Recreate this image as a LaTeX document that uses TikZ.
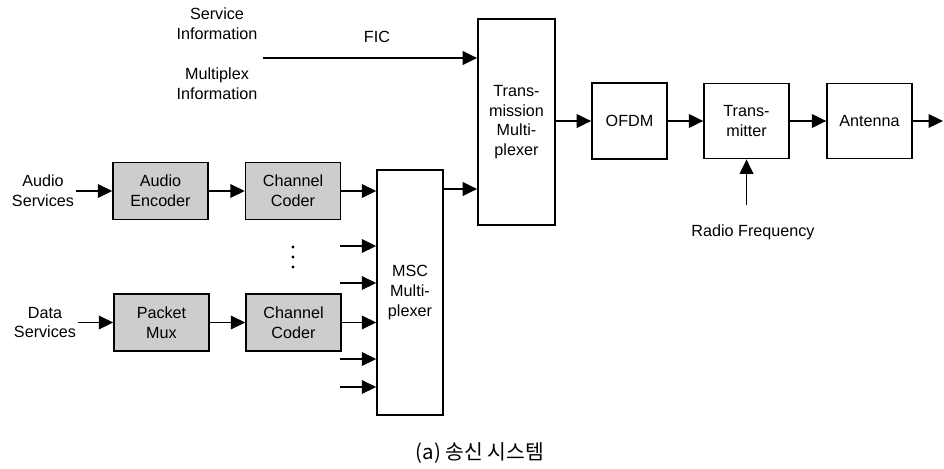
\documentclass[tikz,border=0pt]{standalone}
\usepackage{fontspec}
\setmainfont{Liberation Sans}
\newfontfamily\kofont{Noto Sans CJK KR}
\usetikzlibrary{arrows.meta}
\definecolor{coderfill}{RGB}{205,205,205}

\begin{document}
\begin{tikzpicture}[
    x=0.025cm, y=-0.025cm,
    font=\fontsize{11.5}{14}\selectfont,
    block/.style={draw, line width=1.1pt, align=center, inner sep=0pt},
    coder/.style={block, fill=coderfill, minimum width=2.375cm, minimum height=1.42cm},
    label/.style={align=center, inner sep=1pt},
    arr/.style={line width=1.1pt, -{Triangle[length=0.36cm,width=0.34cm]}}
]
\useasboundingbox (0,0) rectangle (944,468);

% source blocks
\node[coder] (aenc) at (160.5,191) {Audio\\Encoder};
\node[coder] (cc1) at (293,191) {Channel\\Coder};
\node[coder] (pmux) at (161.5,322.5) {Packet\\Mux};
\node[coder] (cc2) at (293.5,322.5) {Channel\\Coder};
\node[block, minimum width=1.65cm, minimum height=6.12cm] (msc) at (410,292.5) {MSC\\Multi-\\plexer};

% main chain
\node[block, minimum width=1.93cm, minimum height=5.15cm] (tmux) at (516.5,122) {Trans-\\mission\\Multi-\\plexer};
\node[block, minimum width=1.88cm, minimum height=1.9cm] (ofdm) at (629.5,121) {OFDM};
\node[block, minimum width=2.12cm, minimum height=1.88cm] (tx) at (746.5,121) {Trans-\\mitter};
\node[block, minimum width=2.12cm, minimum height=1.88cm] (ant) at (869.5,121) {Antenna};

% labels
\node[label] (audio) at (43,191) {Audio\\Services};
\node[label] (data) at (45,322.5) {Data\\Services};
\node[label] (si) at (217,24) {Service\\Information};
\node[label] (mi) at (217,84) {Multiplex\\Information};
\node[label] (ficlbl) at (377,37) {FIC};
\node[label] (rf) at (753,232) {Radio Frequency};
\node (cap) at (480,453) {\kofont\fontsize{14.5}{16}\selectfont (a)\ 송신\ 시스템};

\coordinate (ficin) at (263,58);
\coordinate (rfin) at (746.5,205);
\coordinate (out) at (943,121);
\coordinate (in1) at (340,246);
\coordinate (in2) at (340,283);
\coordinate (in3) at (340,359);
\coordinate (in4) at (340,387);

% dots between the coders
\foreach \y in {247,257,267}
  \fill (293,\y) circle (1.2pt);

% connectors
\draw[arr] (audio) -- (aenc);
\draw[arr] (aenc) -- (cc1);
\draw[arr] (cc1) -- (cc1 -| msc.west);
\draw[arr] (data) -- (pmux);
\draw[arr] (pmux) -- (cc2);
\draw[arr] (cc2) -- (cc2 -| msc.west);
\foreach \n in {in1,in2,in3,in4}
  \draw[arr] (\n) -- (\n -| msc.west);
\draw[arr] (msc.east |- 0,189) -- (tmux.west |- 0,189);
\draw[arr] (ficin) -- (ficin -| tmux.west);
\draw[arr] (tmux.east |- ofdm) -- (ofdm);
\draw[arr] (ofdm) -- (tx);
\draw[arr] (tx) -- (ant);
\draw[arr] (ant) -- (out);
\draw[arr] (rfin) -- (tx);
\end{tikzpicture}
\end{document}
